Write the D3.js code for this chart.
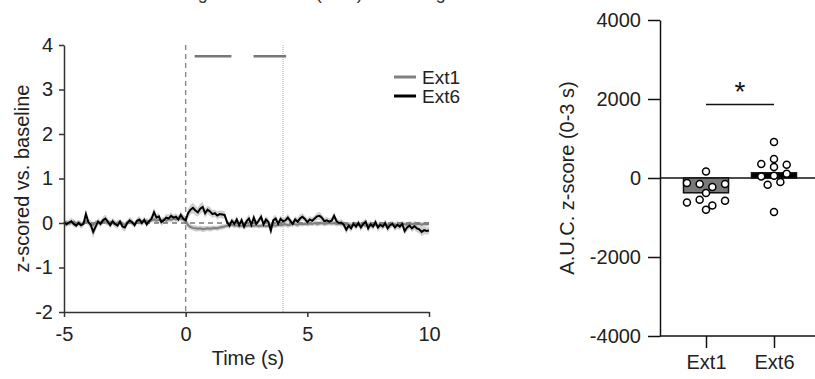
<!DOCTYPE html>
<html>
<head>
<meta charset="utf-8">
<script src="https://cdn.jsdelivr.net/npm/d3@7"></script>
<style>
  body { margin: 0; background: #fff; }
  text { font-family: "Liberation Sans", Arial, sans-serif; fill: #222; }
</style>
</head>
<body>
<div id="chart"></div>
<script>
// ---- data ----
const tStart = -5;
const tStep = 0.1;

const traceExt6 = [
  0.02, -0.03, 0.01, 0.04, -0.02, -0.06, 0.00, -0.05, -0.02, 0.20,
  0.02, -0.04, -0.20, -0.08, 0.03, -0.02, 0.06, 0.10, 0.03, -0.05,
  0.04, -0.02, -0.06, 0.03, -0.08, -0.10, 0.00, 0.06, 0.02, -0.05,
  0.05, 0.08, 0.00, 0.07, -0.03, 0.04, 0.10, 0.24, 0.12, 0.15,
  0.02, 0.06, 0.12, 0.10, 0.16, 0.12, 0.14, 0.08, 0.18, 0.10,
  0.06, 0.22, 0.30, 0.34, 0.28, 0.24, 0.32, 0.36, 0.22, 0.30,
  0.26, 0.20, 0.22, 0.17, 0.20, 0.19, 0.18, 0.02, -0.06, 0.05,
  -0.02, 0.08, -0.05, 0.06, -0.08, 0.04, 0.10, -0.04, 0.12, -0.02,
  0.05, 0.14, -0.03, 0.08, 0.02, -0.17, 0.06, 0.10, -0.02, 0.09,
  0.04, 0.06, 0.12, 0.05, -0.02, 0.08, 0.03, 0.10, 0.14, 0.09,
  0.02, 0.08, 0.05, 0.10, 0.15, 0.16, 0.12, 0.04, 0.06, 0.03,
  0.05, 0.16, 0.04, 0.00, 0.01, -0.04, -0.15, -0.06, -0.12, -0.02,
  -0.08, 0.00, -0.10, -0.02, 0.03, -0.12, -0.03, -0.08, 0.02, -0.10,
  -0.04, -0.08, 0.00, -0.12, -0.05, -0.02, -0.10, -0.04, -0.08, -0.02,
  -0.18, -0.10, -0.06, -0.12, -0.07, -0.12, -0.14, -0.20, -0.16, -0.18,
  -0.17
];
const semExt6 = [
  0.06, 0.07, 0.06, 0.08, 0.07, 0.06, 0.07, 0.08, 0.07, 0.09,
  0.08, 0.10, 0.14, 0.10, 0.08, 0.07, 0.08, 0.09, 0.07, 0.08,
  0.07, 0.08, 0.07, 0.06, 0.08, 0.09, 0.07, 0.08, 0.07, 0.06,
  0.07, 0.08, 0.07, 0.08, 0.06, 0.07, 0.08, 0.10, 0.08, 0.07,
  0.08, 0.07, 0.08, 0.09, 0.08, 0.07, 0.08, 0.07, 0.09, 0.08,
  0.09, 0.10, 0.11, 0.12, 0.11, 0.10, 0.11, 0.12, 0.10, 0.09,
  0.10, 0.09, 0.08, 0.09, 0.08, 0.09, 0.08, 0.07, 0.08, 0.07,
  0.08, 0.07, 0.08, 0.09, 0.08, 0.07, 0.09, 0.08, 0.10, 0.08,
  0.07, 0.09, 0.08, 0.07, 0.08, 0.11, 0.09, 0.08, 0.07, 0.08,
  0.07, 0.08, 0.09, 0.07, 0.08, 0.07, 0.08, 0.09, 0.08, 0.07,
  0.08, 0.07, 0.08, 0.07, 0.08, 0.09, 0.08, 0.07, 0.08, 0.07,
  0.08, 0.09, 0.08, 0.07, 0.08, 0.07, 0.09, 0.08, 0.08, 0.07,
  0.08, 0.07, 0.09, 0.08, 0.07, 0.09, 0.08, 0.07, 0.08, 0.09,
  0.08, 0.07, 0.08, 0.09, 0.08, 0.07, 0.08, 0.09, 0.08, 0.07,
  0.09, 0.08, 0.07, 0.08, 0.09, 0.08, 0.09, 0.10, 0.09, 0.08,
  0.08
];
const traceExt1 = [
  0.00, 0.02, -0.02, 0.01, 0.03, -0.01, 0.02, -0.03, 0.00, 0.05,
  0.00, -0.02, -0.05, 0.01, 0.03, 0.00, 0.04, 0.02, -0.01, 0.02,
  0.00, -0.03, 0.01, 0.03, -0.02, -0.04, 0.02, 0.04, 0.00, -0.02,
  0.03, 0.01, 0.04, 0.02, 0.05, 0.03, 0.06, 0.08, 0.05, 0.07,
  0.06, 0.08, 0.05, 0.09, 0.07, 0.10, 0.08, 0.12, 0.10, 0.08,
  0.04, -0.05, -0.09, -0.11, -0.12, -0.13, -0.12, -0.14, -0.13, -0.12,
  -0.13, -0.12, -0.11, -0.12, -0.10, -0.09, -0.08, -0.06, -0.05, -0.04,
  -0.06, -0.05, -0.07, -0.06, -0.08, -0.06, -0.05, -0.07, -0.06, -0.05,
  -0.07, -0.06, -0.05, -0.07, -0.06, -0.04, -0.05, -0.06, -0.04, -0.05,
  -0.04, -0.03, -0.05, -0.04, -0.02, -0.03, -0.04, -0.02, -0.03, -0.02,
  -0.03, -0.01, -0.02, 0.00, -0.02, -0.01, 0.00, -0.02, -0.01, 0.00,
  -0.01, 0.00, -0.02, -0.01, -0.03, -0.02, -0.04, -0.03, -0.05, -0.03,
  -0.04, -0.05, -0.03, -0.04, -0.06, -0.04, -0.03, -0.05, -0.04, -0.06,
  -0.04, -0.03, -0.05, -0.04, -0.02, -0.04, -0.03, -0.05, -0.03, -0.02,
  -0.03, -0.04, -0.02, -0.03, -0.01, -0.03, -0.02, -0.04, -0.02, -0.03,
  -0.02
];
const semExt1 = [
  0.05, 0.05, 0.06, 0.05, 0.06, 0.05, 0.05, 0.06, 0.05, 0.06,
  0.05, 0.06, 0.06, 0.05, 0.05, 0.06, 0.05, 0.05, 0.06, 0.05,
  0.05, 0.06, 0.05, 0.05, 0.06, 0.05, 0.06, 0.05, 0.05, 0.06,
  0.05, 0.05, 0.06, 0.05, 0.06, 0.05, 0.05, 0.06, 0.05, 0.06,
  0.06, 0.05, 0.06, 0.06, 0.05, 0.06, 0.06, 0.07, 0.06, 0.06,
  0.07, 0.07, 0.06, 0.06, 0.07, 0.06, 0.06, 0.07, 0.06, 0.06,
  0.06, 0.06, 0.05, 0.06, 0.05, 0.06, 0.05, 0.05, 0.06, 0.05,
  0.05, 0.05, 0.06, 0.05, 0.05, 0.06, 0.05, 0.05, 0.06, 0.05,
  0.05, 0.05, 0.06, 0.05, 0.05, 0.05, 0.06, 0.05, 0.05, 0.05,
  0.05, 0.05, 0.06, 0.05, 0.05, 0.05, 0.06, 0.05, 0.05, 0.05,
  0.05, 0.06, 0.05, 0.05, 0.06, 0.05, 0.05, 0.06, 0.05, 0.05,
  0.05, 0.05, 0.06, 0.05, 0.05, 0.06, 0.05, 0.05, 0.06, 0.05,
  0.05, 0.05, 0.06, 0.05, 0.05, 0.06, 0.05, 0.05, 0.05, 0.06,
  0.05, 0.05, 0.06, 0.05, 0.05, 0.05, 0.06, 0.05, 0.05, 0.06,
  0.05, 0.05, 0.06, 0.05, 0.05, 0.06, 0.05, 0.06, 0.05, 0.05,
  0.05
];

// significance bars over the traces, in seconds
const sigSpans = [[0.37, 1.88], [2.79, 4.13]];
const sigLevel = 3.75;

const timeTicks = [-5, 0, 5, 10];
const zTicks = [-2, -1, 0, 1, 2, 3, 4];

const groups = ['Ext1', 'Ext6'];
const aucExt1 = [167, -127, -152, -228, -152, -380, -618, -550, -694, -575, -803];
const aucExt6 = [912, 355, 482, 337, 279, 41, 58, 109, -170, -101, -862];
const aucTicks = [-4000, -2000, 0, 2000, 4000];
const aucSigLevel = 1860;

// ---- drawing ----
const svg = d3.select('#chart').append('svg')
  .attr('width', 815)
  .attr('height', 379)
  .style('display', 'block');

const axisColor = '#333';
const font = 20;
const plain = d => String(d);   // hyphen minus, no decimals

// title, mostly cut off by the top edge
svg.append('text')
  .attr('x', 151)
  .attr('y', -1)
  .attr('font-size', 18)
  .style('fill', '#333')
  .text('Average DA release (tone) in training');

// left panel: traces
const x = d3.scaleLinear().domain([-5, 10]).range([64, 429]);
const y = d3.scaleLinear().domain([-2, 4]).range([312, 45]);

const times = traceExt6.map((d, i) => tStart + i * tStep);

const band = d3.area()
  .x((d, i) => x(times[i]))
  .y0(d => y(d[0] - d[1]))
  .y1(d => y(d[0] + d[1]));

const line = d3.line()
  .x((d, i) => x(times[i]))
  .y(d => y(d));

const left = svg.append('g');

left.append('path')
  .attr('d', band(traceExt1.map((v, i) => [v, semExt1[i]])))
  .attr('fill', '#cfcfcf');

left.append('path')
  .attr('d', band(traceExt6.map((v, i) => [v, semExt6[i]])))
  .attr('fill', '#cfcfcf');

// zero reference and event markers
left.append('line')
  .attr('x1', x(-5)).attr('x2', x(10))
  .attr('y1', y(0)).attr('y2', y(0))
  .attr('stroke', '#333').attr('stroke-width', 1)
  .attr('stroke-dasharray', '5,4');

left.append('line')
  .attr('x1', x(0)).attr('x2', x(0))
  .attr('y1', y(4)).attr('y2', y(-2))
  .attr('stroke', '#888').attr('stroke-width', 1.4)
  .attr('stroke-dasharray', '5,4');

left.append('line')
  .attr('x1', x(4)).attr('x2', x(4))
  .attr('y1', y(4)).attr('y2', y(-2))
  .attr('stroke', '#aaa').attr('stroke-width', 1)
  .attr('stroke-dasharray', '1,1');

left.append('path')
  .attr('d', line(traceExt1))
  .attr('fill', 'none')
  .attr('stroke', '#808080')
  .attr('stroke-width', 2);

left.append('path')
  .attr('d', line(traceExt6))
  .attr('fill', 'none')
  .attr('stroke', '#000')
  .attr('stroke-width', 2);

left.selectAll('.sig')
  .data(sigSpans)
  .enter().append('line')
  .attr('x1', d => x(d[0])).attr('x2', d => x(d[1]))
  .attr('y1', y(sigLevel)).attr('y2', y(sigLevel))
  .attr('stroke', '#777').attr('stroke-width', 2.5);

const yAxisL = left.append('g')
  .attr('transform', 'translate(' + x(-5) + ',0)')
  .call(d3.axisLeft(y).tickValues(zTicks).tickSize(5).tickSizeOuter(0).tickFormat(plain));

const xAxisL = left.append('g')
  .attr('transform', 'translate(0,' + y(-2) + ')')
  .call(d3.axisBottom(x).tickValues(timeTicks).tickSize(5).tickSizeOuter(0).tickFormat(plain));

[yAxisL, xAxisL].forEach(g => {
  g.attr('font-size', null).attr('font-family', null);
  g.select('.domain').attr('stroke', axisColor).attr('stroke-width', 1.5);
  g.selectAll('.tick line').attr('stroke', axisColor).attr('stroke-width', 1.5);
  g.selectAll('.tick text').attr('font-size', font).style('fill', '#222');
});
yAxisL.selectAll('.tick text').attr('x', -11);
xAxisL.selectAll('.tick text').attr('y', 15);

left.append('text')
  .attr('x', 248).attr('y', 365)
  .attr('text-anchor', 'middle')
  .attr('font-size', font)
  .text('Time (s)');

left.append('text')
  .attr('transform', 'translate(29,' + ((y(4) + y(-2)) / 2) + ') rotate(-90)')
  .attr('text-anchor', 'middle')
  .attr('font-size', font)
  .text('z-scored vs. baseline');

// legend
const legend = left.append('g');
[['Ext1', '#808080', 77], ['Ext6', '#000', 96]].forEach(([name, color, ly]) => {
  legend.append('line')
    .attr('x1', 394).attr('x2', 416)
    .attr('y1', ly).attr('y2', ly)
    .attr('stroke', color).attr('stroke-width', 3);
  legend.append('text')
    .attr('x', 422).attr('y', ly + 7)
    .attr('font-size', 19)
    .text(name);
});

// right panel: AUC bars with points
const yb = d3.scaleLinear().domain([-4000, 4000]).range([336, 20]);
const xb = d3.scalePoint().domain(groups).range([706, 774]);
const right = svg.append('g');
const axisX = 660;

const yAxisR = right.append('g')
  .attr('transform', 'translate(' + axisX + ',0)')
  .call(d3.axisLeft(yb).tickValues(aucTicks).tickSize(12).tickSizeOuter(0).tickFormat(plain));

right.append('line')
  .attr('x1', axisX).attr('x2', 815)
  .attr('y1', yb(0)).attr('y2', yb(0))
  .attr('stroke', '#111').attr('stroke-width', 1.5);

right.append('line')
  .attr('x1', axisX).attr('x2', 815)
  .attr('y1', yb(-4000)).attr('y2', yb(-4000))
  .attr('stroke', '#111').attr('stroke-width', 1.5);

const xAxisR = right.append('g')
  .attr('transform', 'translate(0,' + yb(-4000) + ')')
  .call(d3.axisBottom(xb).tickSize(12).tickSizeOuter(0));
xAxisR.select('.domain').remove();

[yAxisR, xAxisR].forEach(g => {
  g.attr('font-size', null).attr('font-family', null);
  g.select('.domain').attr('stroke', '#111').attr('stroke-width', 1.5);
  g.selectAll('.tick line').attr('stroke', '#111').attr('stroke-width', 1.5);
  g.selectAll('.tick text').attr('font-size', font).style('fill', '#222');
});
yAxisR.selectAll('.tick text').attr('x', -19);
xAxisR.selectAll('.tick text').attr('y', 19);

right.append('text')
  .attr('transform', 'translate(574,' + yb(0) + ') rotate(-90)')
  .attr('text-anchor', 'middle')
  .attr('font-size', font)
  .text('A.U.C. z-score (0-3 s)');

const barW = 45;
const series = [
  { name: 'Ext1', values: aucExt1, fill: '#7a7a7a' },
  { name: 'Ext6', values: aucExt6, fill: '#000' }
];

right.selectAll('.bar')
  .data(series)
  .enter().append('rect')
  .attr('x', d => xb(d.name) - barW / 2)
  .attr('width', barW)
  .attr('y', d => yb(Math.max(0, d3.mean(d.values))))
  .attr('height', d => Math.abs(yb(d3.mean(d.values)) - yb(0)))
  .attr('fill', d => d.fill)
  .attr('stroke', '#111')
  .attr('stroke-width', 1.5);

// points laid out in rows, centred like a column scatter
const rowTol = 6.2;
const spacing = 12.7;
function rowOffsets(values) {
  const order = values.map((v, i) => i).sort((a, b) => values[b] - values[a]);
  const rows = [];
  let cur = null;
  order.forEach(i => {
    const py = yb(values[i]);
    if (!cur || py - cur.top > rowTol) {
      cur = { top: py, members: [] };
      rows.push(cur);
    }
    cur.members.push(i);
  });
  const off = [];
  rows.forEach(r => {
    r.members.sort((a, b) => a - b);
    const n = r.members.length;
    r.members.forEach((m, k) => { off[m] = (k - (n - 1) / 2) * spacing; });
  });
  return off;
}

series.forEach(s => {
  const off = rowOffsets(s.values);
  right.selectAll('.pt-' + s.name)
    .data(s.values)
    .enter().append('circle')
    .attr('cx', (d, i) => xb(s.name) + off[i])
    .attr('cy', d => yb(d))
    .attr('r', 3.5)
    .attr('fill', '#fff')
    .attr('stroke', '#000')
    .attr('stroke-width', 1.5);
});

right.append('line')
  .attr('x1', xb('Ext1')).attr('x2', xb('Ext6'))
  .attr('y1', yb(aucSigLevel)).attr('y2', yb(aucSigLevel))
  .attr('stroke', '#111').attr('stroke-width', 1.5);

right.append('text')
  .attr('x', (xb('Ext1') + xb('Ext6')) / 2)
  .attr('y', yb(aucSigLevel) - 4)
  .attr('text-anchor', 'middle')
  .attr('font-size', 28)
  .style('fill', '#111')
  .text('*');
</script>
</body>
</html>
